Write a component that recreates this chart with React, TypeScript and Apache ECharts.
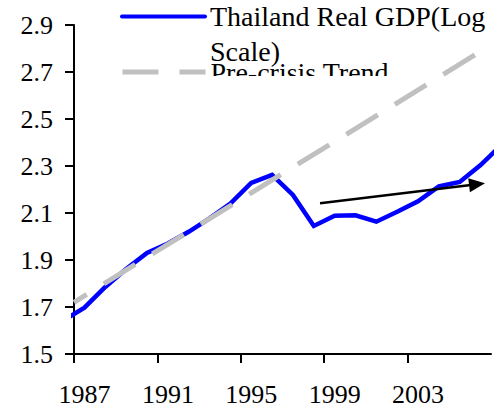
import React, { useEffect, useRef } from "react";
import * as echarts from "echarts";

// Annual values (plotted at mid-year). 1986 and 2007 only extend the line to the plot edges.
const years = [1986, 1987, 1988, 1989, 1990, 1991, 1992, 1993, 1994, 1995, 1996, 1997, 1998, 1999, 2000, 2001, 2002, 2003, 2004, 2005, 2006, 2007];
const gdpLog = [1.643, 1.697, 1.785, 1.862, 1.93, 1.97, 2.02, 2.077, 2.14, 2.228, 2.262, 2.177, 2.045, 2.088, 2.09, 2.063, 2.105, 2.15, 2.213, 2.232, 2.304, 2.39];

// Pre-crisis trend end points (start of 1987, end of 2006)
const trendYears = [1987, 2007];
const trendLog = [1.72, 2.815];

// Annotation arrow (data coordinates)
const arrowFrom = [1998.8, 2.141];
const arrowTo = [2006.33, 2.222];

const xMin = 1987;
const xMax = 2007;
const xInterval = 4;
const yMin = 1.5;
const yMax = 2.9;
const yInterval = 0.2;

const gdpName = "Thailand Real GDP(Log Scale)";
const trendName = "Pre-crisis Trend";

const FONT = "'Liberation Serif', 'Times New Roman', serif";

export default function App() {
  const ref = useRef<HTMLDivElement>(null);
  useEffect(() => {
    if (!ref.current) return;
    const chart = echarts.init(ref.current, null, { renderer: "svg" });
    const option: any = {
      animation: false,
      backgroundColor: "#fff",
      grid: { left: 74, right: 10, top: 25, bottom: 53, containLabel: false },
      xAxis: {
        type: "value",
        min: xMin,
        max: xMax,
        interval: xInterval,
        splitLine: { show: false },
        axisLine: { show: true, onZero: false, lineStyle: { color: "#000", width: 2 } },
        axisTick: { show: true, inside: false, length: 9, lineStyle: { color: "#000", width: 2 } },
        axisLabel: {
          showMaxLabel: false,
          color: "#000",
          fontFamily: FONT,
          fontSize: 26,
          margin: 27,
          padding: [0, 0, 0, 21],
          formatter: (v: number) => String(v),
        },
      },
      yAxis: {
        type: "value",
        min: yMin,
        max: yMax,
        interval: yInterval,
        splitLine: { show: false },
        axisLine: { show: true, onZero: false, lineStyle: { color: "#000", width: 2 } },
        axisTick: { show: true, inside: false, length: 9, lineStyle: { color: "#000", width: 2 } },
        axisLabel: {
          color: "#000",
          fontFamily: FONT,
          fontSize: 26,
          margin: 21,
          formatter: (v: number) => v.toFixed(1),
        },
      },
      legend: [
        {
          data: [gdpName],
          orient: "vertical",
          left: 120,
          top: -36,
          padding: 0,
          itemWidth: 83,
          itemHeight: 10,
          selectedMode: false,
          formatter: () => "\nThailand Real GDP(Log\nScale)",
          textStyle: { color: "#000", fontFamily: FONT, fontSize: 28, lineHeight: 35 },
          itemStyle: { opacity: 0, borderWidth: 0 },
          lineStyle: { width: 4, cap: "round" },
        },
        {
          data: [trendName],
          orient: "vertical",
          left: 120,
          top: 53,
          padding: 0,
          itemWidth: 83,
          itemHeight: 10,
          selectedMode: false,
          textStyle: { color: "#000", fontFamily: FONT, fontSize: 28, lineHeight: 34, padding: [4, 0, 0, 0] },
          itemStyle: { opacity: 0, borderWidth: 0 },
          lineStyle: { width: 5, dashOffset: 0, type: [36, 21] },
        },
      ],
      graphic: [
        {
          type: "rect",
          left: 205,
          top: 76,
          z: 100,
          shape: { width: 190, height: 22 },
          style: { fill: "#fff" },
          silent: true,
        },
      ],
      series: [
        {
          name: gdpName,
          type: "line",
          data: years.map((y, i) => [y + 0.5, gdpLog[i]]),
          showSymbol: false,
          symbol: "none",
          clip: true,
          lineStyle: { color: "#0000FF", width: 4.5, join: "miter" },
          itemStyle: { color: "#0000FF" },
          emphasis: { disabled: true },
          silent: true,
          markLine: {
            silent: true,
            animation: false,
            symbol: ["none", "triangle"],
            symbolSize: [14, 16],
            label: { show: false },
            lineStyle: { color: "#000", width: 2.5, type: "solid" },
            emphasis: { disabled: true },
            data: [[{ coord: arrowFrom }, { coord: arrowTo }]],
          },
        },
        {
          name: trendName,
          type: "line",
          data: trendYears.map((y, i) => [y, trendLog[i]]),
          showSymbol: false,
          symbol: "none",
          clip: true,
          lineStyle: { color: "#C0C0C0", width: 5, type: [37, 20], dashOffset: 22 },
          itemStyle: { color: "#C0C0C0" },
          emphasis: { disabled: true },
          silent: true,
        },
      ],
    };
    chart.setOption(option);
    return () => chart.dispose();
  }, []);
  return <div ref={ref} style={{ width: 501, height: 407, position: "absolute", left: 0, top: 0 }} />;
}
